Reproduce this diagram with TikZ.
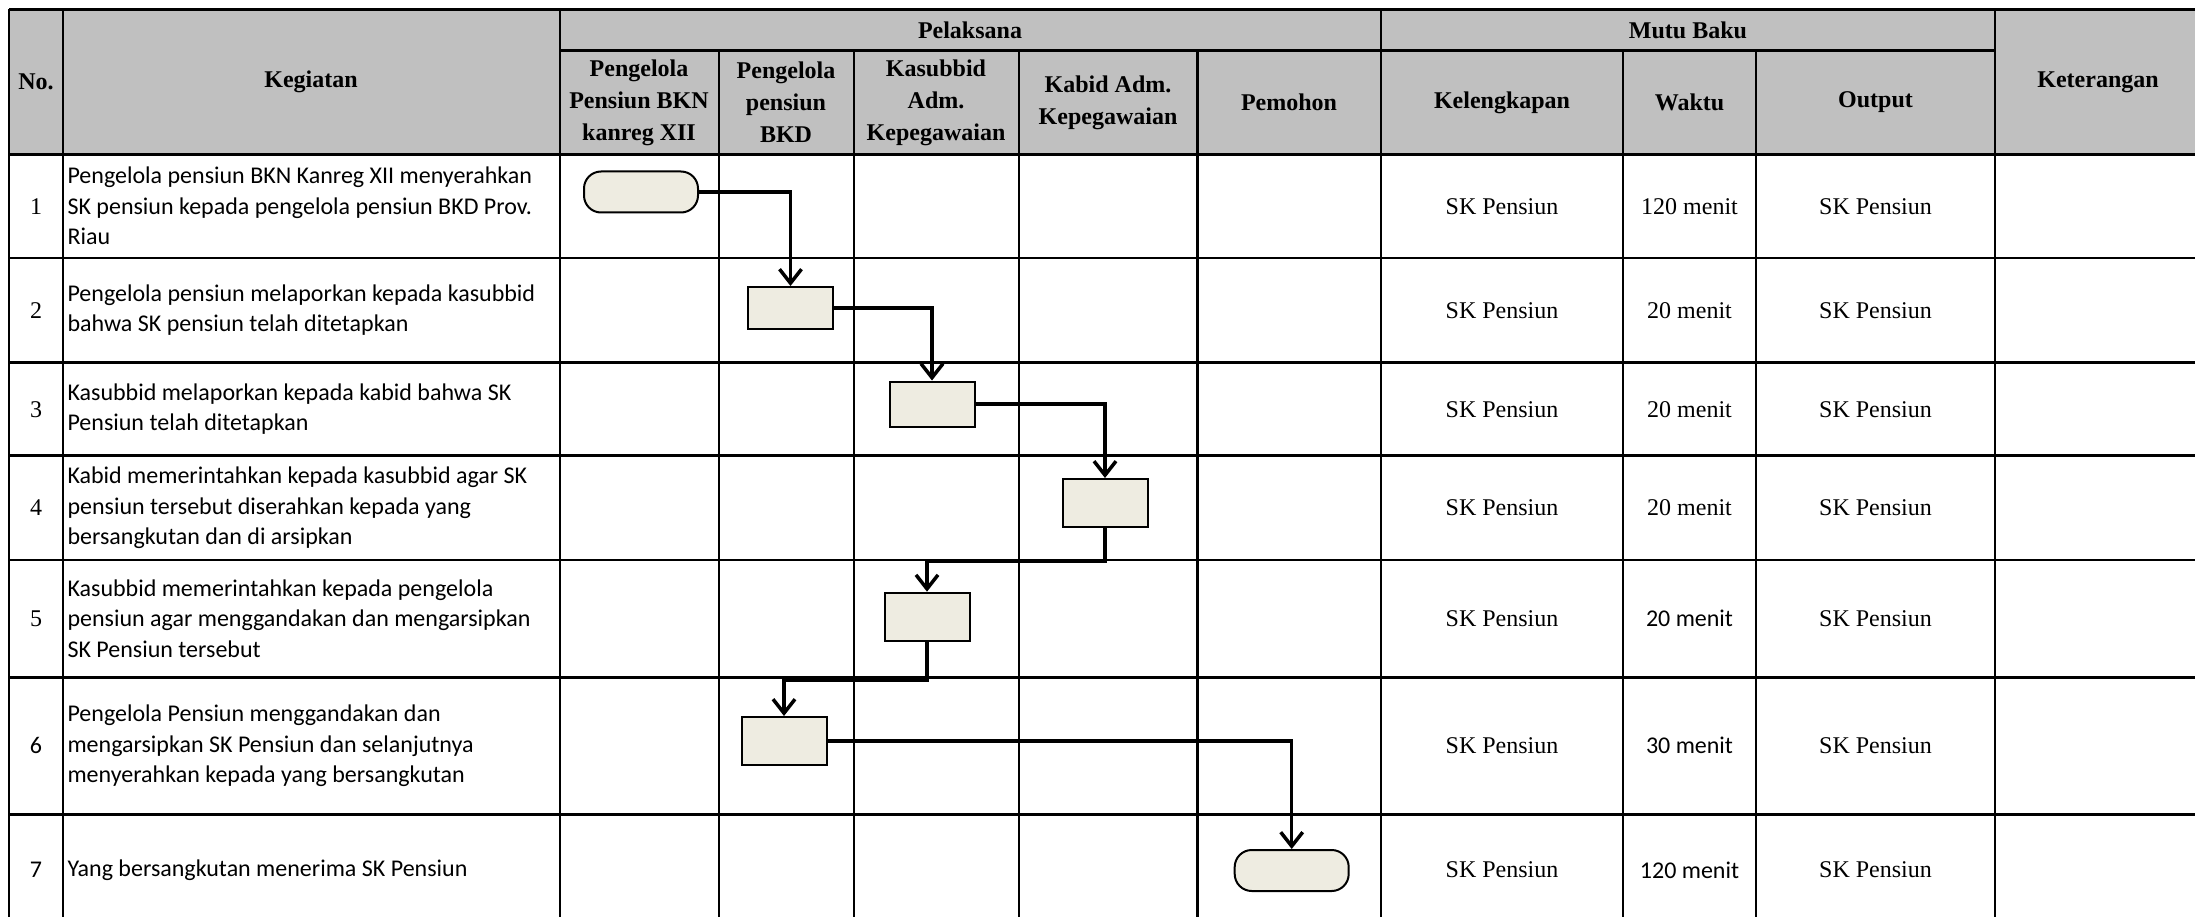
\documentclass[tikz,border=0pt]{standalone}
\usepackage{fontspec}
\setmainfont{Liberation Serif}
\newfontfamily\calibri{Carlito}
\usetikzlibrary{arrows.meta}
\definecolor{hdrgray}{RGB}{192,192,192}
\definecolor{boxfill}{RGB}{238,236,225}
\tikzset{
  garis/.style={line width=2.6pt},
  hdr/.style={font=\fontsize{24}{32}\selectfont\bfseries, align=center},
  cell/.style={font=\fontsize{24}{30}\selectfont},
  sans/.style={font=\fontsize{24}{30.5}\selectfont\calibri},
  kegiatan/.style={sans, align=left, anchor=west},
  proses/.style={draw, line width=2pt, fill=boxfill, minimum width=85pt, minimum height=46pt},
  terminal/.style={proses, rounded corners=17pt, minimum width=114pt, minimum height=41pt},
  alur/.style={line width=3.5pt, -{Straight Barb[length=14pt,width=22pt]}}
}
\begin{document}
\begin{tikzpicture}[x=1pt, y=-1pt]
\useasboundingbox (0,0) rectangle (2195,917);
\clip (0,0) rectangle (2195,917);
% header
\fill[hdrgray] (9,9.5) rectangle (2215,154.5);
\draw[garis] (9,9.5)--(2215,9.5);
\draw[garis] (560,50.7)--(1995,50.7);
\foreach \y in {154.5,258,362.7,455.7,560,677.3,814.3}
  \draw[garis] (9,\y)--(2215,\y);
\foreach \x in {9,63,560,1381,1995}
  \draw[garis] (\x,9.5)--(\x,930);
\foreach \x in {719,854,1019,1197.5,1623,1756}
  \draw[garis] (\x,50.7)--(\x,930);

\node[hdr] at (36,82) {No.};
\node[hdr] at (311,82) {Kegiatan};
\node[hdr] at (970,30) {Pelaksana};
\node[hdr] at (1688,30) {Mutu Baku};
\node[hdr] at (2098,82) {Keterangan};
\node[hdr] at (639,102.6) {Pengelola\\Pensiun BKN\\kanreg XII};
\node[hdr] at (786,102.6) {Pengelola\\pensiun\\BKD};
\node[hdr] at (936,102.6) {Kasubbid\\Adm.\\Kepegawaian};
\node[hdr] at (1108,102.6) {Kabid Adm.\\Kepegawaian};
\node[hdr] at (1289,102.6) {Pemohon};
\node[hdr] at (1502,102.6) {Kelengkapan};
\node[hdr] at (1689.5,102.6) {Waktu};
\node[hdr] at (1875.5,102.6) {Output};

% isi baris
\foreach \y in {206.2,310.3,409.2,507.8,618.6,745.8,870}{
  \node[cell] at (1502,\y) {SK Pensiun};
  \node[cell] at (1875.5,\y) {SK Pensiun};
}
\foreach \i/\y in {1/206.2,2/310.3,3/409.2,4/507.8,5/618.6}
  \node[cell] at (36,\y) {\i};
\node[sans] at (36,745.8) {6};
\node[sans] at (36,870) {7};

\node[cell] at (1689.5,206.2) {120 menit};
\node[cell] at (1689.5,310.3) {20 menit};
\node[cell] at (1689.5,409.2) {20 menit};
\node[cell] at (1689.5,507.8) {20 menit};
\node[sans] at (1689.5,618.6) {20 menit};
\node[sans] at (1689.5,745.8) {30 menit};
\node[sans] at (1689.5,870) {120 menit};

\node[kegiatan] at (64,206.2) {Pengelola pensiun BKN Kanreg XII menyerahkan\\SK pensiun kepada pengelola pensiun BKD Prov.\\Riau};
\node[kegiatan] at (64,310.3) {Pengelola pensiun melaporkan kepada kasubbid\\bahwa SK pensiun telah ditetapkan};
\node[kegiatan] at (64,409.2) {Kasubbid melaporkan kepada kabid bahwa SK\\Pensiun telah ditetapkan};
\node[kegiatan] at (64,507.8) {Kabid memerintahkan kepada kasubbid agar SK\\pensiun tersebut diserahkan kepada yang\\bersangkutan dan di arsipkan};
\node[kegiatan] at (64,618.6) {Kasubbid memerintahkan kepada pengelola\\pensiun agar menggandakan dan mengarsipkan\\SK Pensiun tersebut};
\node[kegiatan] at (64,745.8) {Pengelola Pensiun menggandakan dan\\mengarsipkan SK Pensiun dan selanjutnya\\menyerahkan kepada yang bersangkutan};
\node[kegiatan] at (64,870) {Yang bersangkutan menerima SK Pensiun};

% alur
\node[terminal] (mulai) at (641,192) {};
\node[proses, minimum height=42pt] (p2) at (790.5,308) {};
\node[proses, minimum height=45pt] (p3) at (932,404) {};
\node[proses, minimum height=48pt] (p4) at (1105,503) {};
\node[proses, minimum height=48pt] (p5) at (927,616.7) {};
\node[proses, minimum height=48pt] (p6) at (784,741) {};
\node[terminal] (selesai) at (1291.7,870.5) {};

\draw[alur] (mulai.east) -| (p2.north);
\draw[alur] (p2.east) -| (p3.north);
\draw[alur] (p3.east) -| (p4.north);
\draw[alur] (p4.south) -- ++(0,33) -| (p5.north);
\draw[alur] (p5.south) -- ++(0,38.6) -| (p6.north);
\draw[alur] (p6.east) -| (selesai.north);
\end{tikzpicture}
\end{document}
